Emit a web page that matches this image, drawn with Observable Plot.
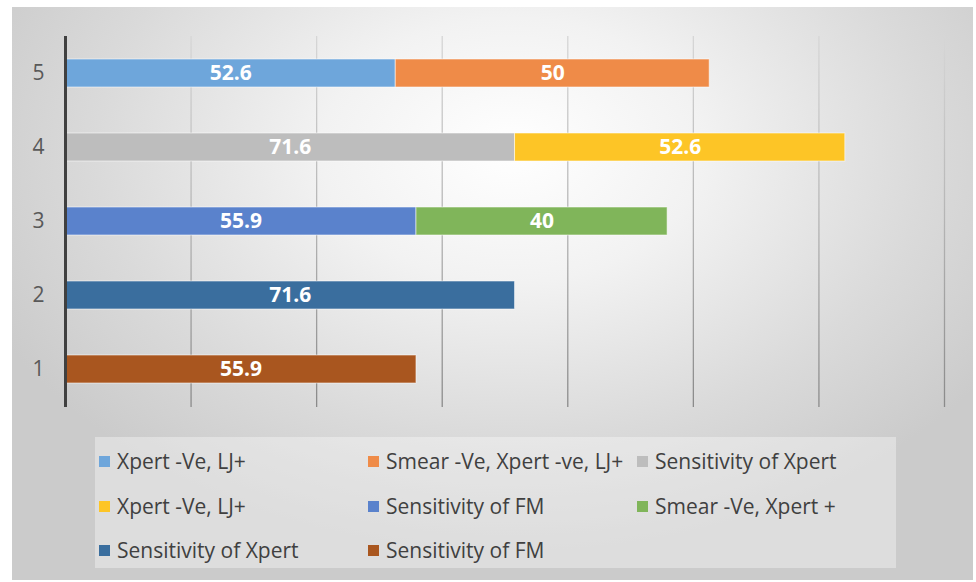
<!DOCTYPE html>
<html>
<head>
<meta charset="utf-8">
<script src="https://cdn.jsdelivr.net/npm/d3@7"></script>
<script src="https://cdn.jsdelivr.net/npm/@observablehq/plot@0.6"></script>
<style>
  html, body { margin: 0; padding: 0; background: #fff; }
  body { width: 976px; height: 582px; position: relative; overflow: hidden; font-family: "Open Sans", Lato, sans-serif; }
  #bg { position: absolute; left: 12px; top: 7px; width: 961px; height: 573px;
        background: radial-gradient(ellipse 60% 70% at 52% 25%, #ffffff 0%, #f2f2f2 33%, #dadada 72%, #cbcbcb 100%); }
  #chart { position: absolute; left: 0; top: 0; }
  #legend { position: absolute; left: 95px; top: 437px; width: 801px; height: 131px;
            background: rgba(255,255,255,0.35); }
  .item { position: absolute; height: 30px; display: flex; align-items: center; font-size: 21px; color: #404040; white-space: nowrap; transform: translateY(-50%); }
  .sw { width: 11px; height: 11px; margin-right: 7px; flex: none; }
</style>
</head>
<body>
<div id="bg"></div>
<div id="chart"></div>
<div id="legend"></div>
<script>
const categories = ["5", "4", "3", "2", "1"];
const seriesNames = ["Xpert -Ve, LJ+", "Smear -Ve, Xpert -ve, LJ+", "Sensitivity of Xpert", "Xpert -Ve, LJ+", "Sensitivity of FM", "Smear -Ve, Xpert +", "Sensitivity of Xpert", "Sensitivity of FM"];
const seriesCategory = ["5", "5", "4", "4", "3", "3", "2", "1"];
const seriesValues = [52.6, 50, 71.6, 52.6, 55.9, 40, 71.6, 55.9];
const seriesColors = ["#6ea6db", "#ef8b48", "#bdbdbd", "#fdc526", "#5a82cc", "#80b55a", "#3a6e9e", "#a9561f"];
const xTicks = [20, 40, 60, 80, 100, 120, 140];

const data = seriesValues.map((v, i) => ({key: "s" + i, cat: seriesCategory[i], value: v, name: seriesNames[i]}));
const keys = data.map(d => d.key);

const plot = Plot.plot({
  width: 976,
  height: 420,
  marginTop: 36,
  marginBottom: 13,
  marginLeft: 65,
  marginRight: 32,
  style: {background: "transparent", fontFamily: "'Open Sans', Lato, sans-serif"},
  x: {domain: [0, 140], axis: null},
  y: {domain: categories, paddingInner: 0.62, paddingOuter: 0.31, label: null},
  color: {type: "ordinal", domain: keys, range: seriesColors},
  marks: [
    Plot.gridX(xTicks, {stroke: "url(#gridgrad)", strokeOpacity: 1, strokeWidth: 1.3}),
    Plot.barX(data, Plot.stackX({x: "value", y: "cat", fill: "key", stroke: "rgba(255,255,255,0.55)", strokeWidth: 1})),
    Plot.text(data, Plot.stackX({x: "value", y: "cat", text: d => String(d.value), fill: "white", fontSize: 21, fontWeight: "bold"})),
    Plot.axisY({tickSize: 0, tickPadding: 21, fontSize: 21, color: "#595959", textAnchor: "end"}),
    Plot.ruleX([0], {stroke: "#404040", strokeWidth: 3})
  ]
});
const ns = "http://www.w3.org/2000/svg";
const defs = document.createElementNS(ns, "defs");
defs.innerHTML = '<linearGradient id="gridgrad" gradientUnits="userSpaceOnUse" x1="0" y1="36" x2="0" y2="407">' +
  '<stop offset="0" stop-color="#d6d6d6"/><stop offset="0.5" stop-color="#b4b4b4"/><stop offset="1" stop-color="#8a8a8a"/></linearGradient>';
plot.insertBefore(defs, plot.firstChild);
document.getElementById("chart").appendChild(plot);

const legend = document.getElementById("legend");
const colX = [4, 273, 542];
const rowY = [24, 69, 113];
data.forEach((d, i) => {
  const el = document.createElement("div");
  el.className = "item";
  el.style.left = colX[i % 3] + "px";
  el.style.top = rowY[Math.floor(i / 3)] + "px";
  const sw = document.createElement("div");
  sw.className = "sw";
  sw.style.background = seriesColors[i];
  const tx = document.createElement("span");
  tx.textContent = d.name;
  el.appendChild(sw);
  el.appendChild(tx);
  legend.appendChild(el);
});
</script>
</body>
</html>
